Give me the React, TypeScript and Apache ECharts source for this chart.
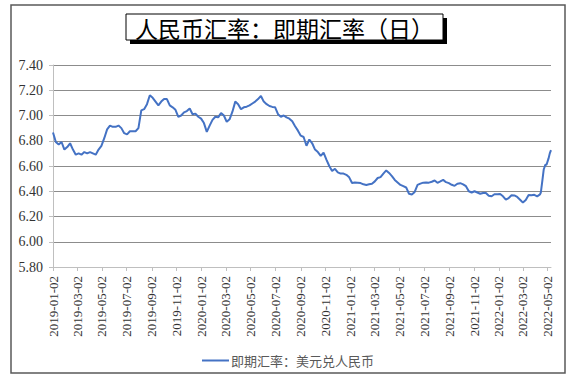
import React, { useEffect, useRef } from "react";
import * as echarts from "echarts";

const START_DATE = "2019-01-02";
const END_DATE = "2022-05-10";
const TITLE_TEXT = "人民币汇率：即期汇率（日）";
const SERIES_NAME = "即期汇率：美元兑人民币";

// weekly readings (one per 7 days starting 2019-01-02)
const weeklyRates = [
  6.865, 6.79, 6.77, 6.79, 6.73, 6.75, 6.78, 6.73, 6.69, 6.70,
  6.69, 6.71, 6.70, 6.71, 6.70, 6.69, 6.73, 6.76, 6.82, 6.89,
  6.92, 6.91, 6.91, 6.92, 6.90, 6.86, 6.85, 6.875, 6.875, 6.875,
  6.90, 7.04, 7.05, 7.09, 7.16, 7.14, 7.11, 7.08, 7.11, 7.13,
  7.13, 7.08, 7.065, 7.045, 6.99, 7.00, 7.025, 7.035, 7.055, 7.01,
  7.015, 6.99, 6.975, 6.94, 6.87, 6.92, 6.965, 6.99, 6.985, 7.02,
  7.00, 6.95, 6.97, 7.03, 7.11, 7.09, 7.05, 7.065, 7.07, 7.08,
  7.095, 7.11, 7.13, 7.155, 7.11, 7.09, 7.075, 7.068, 7.065, 7.01,
  6.99, 7.00, 6.985, 6.975, 6.955, 6.915, 6.88, 6.84, 6.83, 6.76,
  6.81, 6.78, 6.73, 6.71, 6.68, 6.705, 6.65, 6.60, 6.56, 6.578,
  6.55, 6.54, 6.54, 6.53, 6.51, 6.465, 6.47, 6.468, 6.465, 6.455,
  6.45, 6.455, 6.46, 6.478, 6.505, 6.512, 6.54, 6.565, 6.545, 6.52,
  6.49, 6.47, 6.45, 6.44, 6.43, 6.38, 6.375, 6.395, 6.45, 6.46,
  6.468, 6.47, 6.468, 6.475, 6.485, 6.467, 6.478, 6.49, 6.472, 6.464,
  6.451, 6.443, 6.46, 6.464, 6.455, 6.44, 6.40, 6.39, 6.40, 6.39,
  6.38, 6.386, 6.386, 6.364, 6.36, 6.376, 6.376, 6.378, 6.36, 6.333,
  6.346, 6.368, 6.367, 6.355, 6.333, 6.31, 6.33, 6.37, 6.368, 6.372,
  6.36, 6.375,
];

// final weeks, read more densely
const tailDates = ["2022-04-15", "2022-04-19", "2022-04-22", "2022-04-26", "2022-04-29", "2022-05-04", "2022-05-07", "2022-05-10"];
const tailRates = [6.39, 6.49, 6.57, 6.61, 6.61, 6.66, 6.70, 6.725];

const Y_MIN = 5.8;
const Y_MAX = 7.4;
const Y_STEP = 0.2;

function addDays(start: string, n: number): string {
  const d = new Date(start + "T00:00:00Z");
  d.setUTCDate(d.getUTCDate() + n);
  return d.toISOString().slice(0, 10);
}

function dayRange(start: string, end: string): string[] {
  const out: string[] = [];
  let i = 0;
  while (true) {
    const s = addDays(start, i);
    out.push(s);
    if (s >= end) break;
    i++;
  }
  return out;
}

const isTickDay = (v: string) => v.slice(8) === "02" && Number(v.slice(5, 7)) % 2 === 1;

export default function App() {
  const ref = useRef<HTMLDivElement>(null);
  useEffect(() => {
    if (!ref.current) return;
    const chart = echarts.init(ref.current, null, { renderer: "svg" });
    const categories = dayRange(START_DATE, END_DATE);
    const data: [string, number][] = [
      ...weeklyRates.map((v, i) => [addDays(START_DATE, 7 * i), v] as [string, number]),
      ...tailDates.map((d, i) => [d, tailRates[i]] as [string, number]),
    ];
    chart.setOption({
      animation: false,
      backgroundColor: "#ffffff",
      grid: { left: 53, right: 25, top: 65, bottom: 121, containLabel: false },
      graphic: [
        {
          type: "rect",
          shape: { x: 11, y: 5, width: 554, height: 368 },
          style: { fill: "none", stroke: "#595959", lineWidth: 1.5 },
          silent: true,
        },
        {
          type: "rect",
          shape: { x: 130, y: 18, width: 317, height: 26 },
          style: { fill: "#000000" },
          silent: true,
        },
        {
          type: "rect",
          shape: { x: 126, y: 14, width: 317, height: 26 },
          style: { fill: "#ffffff", stroke: "#000000", lineWidth: 1 },
          silent: true,
        },
        {
          type: "text",
          x: 284.5,
          y: 27.5,
          style: {
            text: TITLE_TEXT,
            fontSize: 23,
            fontFamily: '"Noto Sans CJK SC", sans-serif',
            fill: "#000000",
            align: "center",
            verticalAlign: "middle",
          },
          silent: true,
        },
      ],
      legend: {
        data: [SERIES_NAME],
        left: "center",
        top: 349,
        icon: "rect",
        itemWidth: 27,
        itemHeight: 2,
        textStyle: {
          fontSize: 13,
          color: "#595959",
          fontFamily: '"Noto Sans CJK SC", sans-serif',
          padding: [0, 0, 0, -3],
        },
      },
      xAxis: {
        type: "category",
        data: categories,
        boundaryGap: false,
        z: 1,
        axisLine: { lineStyle: { color: "#bfbfbf", width: 1 } },
        axisTick: {
          show: true,
          length: 4,
          interval: (_i: number, v: string) => isTickDay(v),
          lineStyle: { color: "#bfbfbf" },
        },
        axisLabel: {
          interval: (_i: number, v: string) => isTickDay(v),
          rotate: 90,
          margin: 9,
          fontSize: 13,
          color: "#333333",
          fontFamily: '"Liberation Serif", serif',
        },
        splitLine: { show: false },
      },
      yAxis: {
        type: "value",
        min: Y_MIN,
        max: Y_MAX,
        interval: Y_STEP,
        axisLine: { show: true, lineStyle: { color: "#bfbfbf" } },
        axisTick: { show: true, length: 4, lineStyle: { color: "#bfbfbf" } },
        axisLabel: {
          margin: 10,
          fontSize: 14,
          color: "#333333",
          fontFamily: '"Liberation Serif", serif',
          formatter: (v: number) => v.toFixed(2),
        },
        splitLine: { lineStyle: { color: "#8c8c8c", width: 1 } },
      },
      series: [
        {
          name: SERIES_NAME,
          type: "line",
          data,
          symbol: "none",
          showSymbol: false,
          connectNulls: true,
          lineStyle: { color: "#4472C4", width: 2 },
          itemStyle: { color: "#4472C4" },
        },
      ],
    });
    return () => chart.dispose();
  }, []);
  return (
    <div
      ref={ref}
      style={{ position: "fixed", left: 0, top: 0, width: 576, height: 388, background: "#fff" }}
    />
  );
}
